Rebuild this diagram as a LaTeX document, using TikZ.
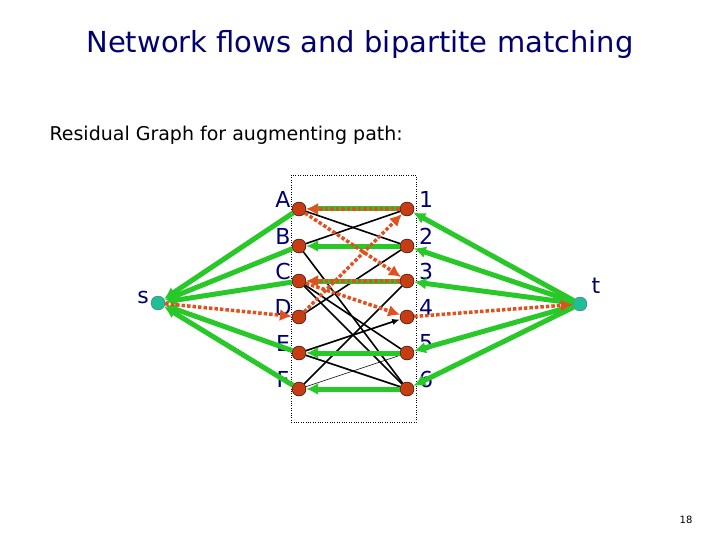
\documentclass[tikz,border=0pt]{standalone}
\usepackage{fontspec}
\setmainfont{DejaVu Sans}
\usetikzlibrary{arrows.meta}
\definecolor{fgreen}{RGB}{40,200,40}
\definecolor{fred}{RGB}{225,80,30}
\definecolor{vtx}{RGB}{200,60,20}
\definecolor{term}{RGB}{30,190,150}
\definecolor{ink}{RGB}{0,0,110}
\tikzset{
  vert/.style={circle, draw=black, fill=vtx, inner sep=0pt, minimum size=14pt},
  sink/.style={circle, draw=black!60, fill=term, inner sep=0pt, minimum size=14pt},
  flow/.style={draw=fgreen, line width=5pt, -{Latex[length=12pt,width=12pt]}},
  resid/.style={draw=fred, line width=3.5pt, dotted, -{Latex[length=12pt,width=12pt]}},
  edge/.style={draw=black, line width=1.6pt},
  lbl/.style={text=ink, font=\fontsize{22}{22}\selectfont}
}
\begin{document}
\begin{tikzpicture}[x=1pt, y=-1pt]
  \useasboundingbox (0,0) rectangle (720,540);
  \node[text=ink, font=\fontsize{29}{29}\selectfont] (title) at (360,45) {Network flows and bipartite matching};
  \node[anchor=west, font=\fontsize{19}{19}\selectfont] (sub) at (46,135) {Residual Graph for augmenting path:};
  \draw[dotted] (291,175) rectangle (416,422);
  % vertices
  \node[sink] (s) at (158,303) {};
  \node[sink] (t) at (580,304) {};
  \node[lbl] at (143,297) {s};
  \node[lbl] at (596,286) {t};
  \foreach \n/\y in {A/209,B/246,C/281,D/317,E/353,F/389} {
    \node[vert] (\n) at (299,\y) {};
    \node[lbl] at (283,\y-10) {\n};
  }
  \foreach \n/\y in {1/209,2/246,3/281,4/317,5/353,6/389} {
    \node[vert] (r\n) at (407,\y) {};
    \node[lbl] at (426,\y-10) {\n};
  }
  % black edges
  \draw[edge] (A) -- (r2);
  \draw[edge] (B) -- (r1);
  \draw[edge] (B) -- (r6);
  \draw[edge] (C) -- (r5);
  \draw[edge] (C) -- (r6);
  \draw[edge] (D) -- (r2);
  \draw[edge, -{Latex[length=8pt]}] (E) -- (r4);
  \draw[edge] (E) -- (r6);
  \draw[edge] (F) -- (r3);
  \draw[draw=black, line width=0.5pt] (F) -- (r5);
  % flow edges
  \foreach \n in {A,B,C,E,F} \draw[flow] (\n) -- (s);
  \foreach \n/\m in {1/A,2/B,3/C,5/E,6/F} \draw[flow] (r\n) -- (\m);
  \foreach \n in {1,2,3,5,6} \draw[flow] (t) -- (r\n);
  % augmenting path
  \draw[resid] (s) -- (D);
  \draw[resid] (D) -- (r1);
  \draw[resid] (r1) -- (A);
  \draw[resid] (A) -- (r3);
  \draw[resid] (r3) -- (C);
  \draw[resid] (C) -- (r4);
  \draw[resid] (r4) -- (t);
  \node[font=\fontsize{10}{10}\selectfont] (page) at (686,520) {18};
\end{tikzpicture}
\end{document}
